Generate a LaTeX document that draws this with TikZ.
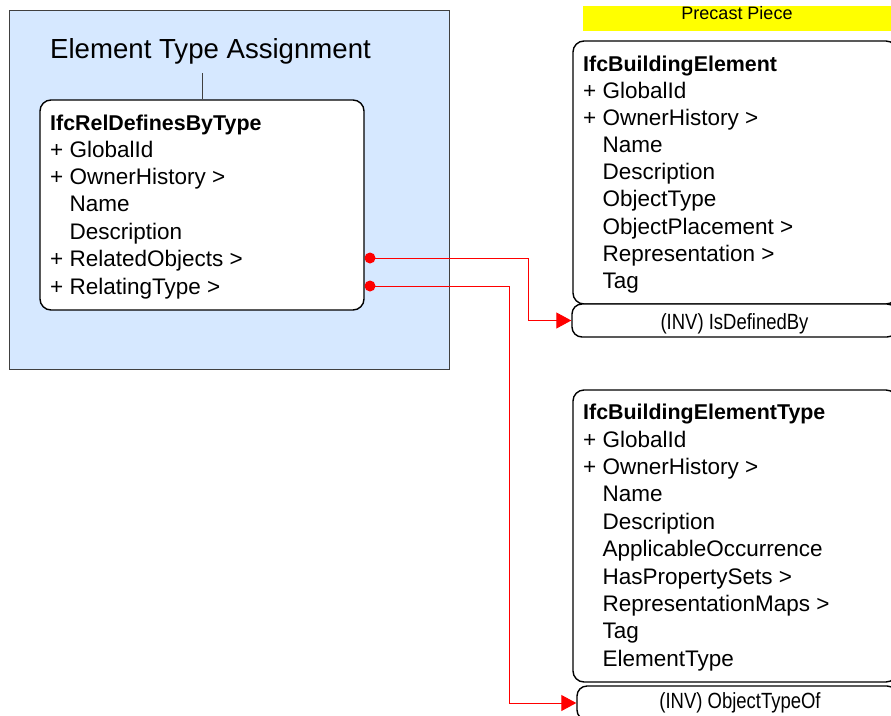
\documentclass[tikz,border=0pt]{standalone}
\usepackage{fontspec}
\usepackage{graphicx}
\setmainfont{Liberation Sans}
\usetikzlibrary{arrows.meta}
\definecolor{groupblue}{RGB}{214,232,255}
\definecolor{groupedge}{RGB}{64,64,64}
\definecolor{tagyellow}{RGB}{255,255,0}
\newcommand\myind{\hphantom{+ }}
\tikzset{
  entbox/.style={draw=black, line width=1.4pt, rounded corners=11pt, fill=white, inner sep=0pt},
  invbox/.style={draw=black, line width=1.4pt, rounded corners=10pt, fill=white, inner sep=0pt},
  item/.style={anchor=base west, inner sep=0pt, font=\fontsize{22.5}{27}\selectfont},
  header/.style={anchor=base west, inner sep=0pt, font=\fontsize{21.4}{25}\selectfont\bfseries},
  invtext/.style={anchor=base, inner sep=0pt, font=\fontsize{22}{26}\selectfont},
  conn/.style={draw=red, line width=1pt, -{Triangle[length=15pt,width=16pt]}},
}
\begin{document}
\begin{tikzpicture}[x=1pt,y=-1pt]
\useasboundingbox (0,0) rectangle (891,715);
\clip (0,0) rectangle (891,715);
\fill[white] (0,0) rectangle (891,715);
% group
\node[draw=groupedge, line width=1pt, fill=groupblue, minimum width=440pt, minimum height=359pt, inner sep=0pt] (group) at (229,189.5) {};
\node[anchor=base west, inner sep=0pt, font=\fontsize{27.6}{32}\selectfont] (title) at (50,58) {Element Type Assignment};
\node[entbox, minimum width=324pt, minimum height=210pt] (rel) at (202,205) {};
\coordinate (t0) at (202,73);
\draw[groupedge, line width=1pt] (t0) -- (rel.north);
\node[header] (relh) at (50,130) {IfcRelDefinesByType};
\foreach \t [count=\i from 0] in {+ GlobalId, + OwnerHistory >, \myind Name, \myind Description, + RelatedObjects >, + RelatingType >}
  \node[item] (r\i) at (50,{157+27.4*\i}) {\t};
% precast label
\node[fill=tagyellow, minimum width=308pt, minimum height=25pt, inner sep=0pt] (tag) at (737,18.5) {};
\node[anchor=base, inner sep=0pt, font=\fontsize{18}{21}\selectfont] (tagt) at (737,19) {Precast Piece};
% building element
\node[entbox, minimum width=324pt, minimum height=263pt] (elem) at (735,172.5) {};
\node[header] (elemh) at (583,71) {IfcBuildingElement};
\foreach \t [count=\i from 0] in {+ GlobalId, + OwnerHistory >, \myind Name, \myind Description, \myind ObjectType, \myind ObjectPlacement >, \myind Representation >, \myind Tag}
  \node[item] (e\i) at (583,{98+27.2*\i}) {\t};
\node[invbox, minimum width=325pt, minimum height=33pt] (inv1) at (734.5,320.5) {};
\node[invtext] (inv1t) at (734.5,329) {\scalebox{0.84}[1]{(INV) IsDefinedBy}};
% building element type
\node[entbox, minimum width=324pt, minimum height=292pt] (etype) at (735,536) {};
\node[header] (etypeh) at (583,419) {IfcBuildingElementType};
\foreach \t [count=\i from 0] in {+ GlobalId, + OwnerHistory >, \myind Name, \myind Description, \myind ApplicableOccurrence, \myind HasPropertySets >, \myind RepresentationMaps >, \myind Tag, \myind ElementType}
  \node[item] (y\i) at (583,{447+27.4*\i}) {\t};
\node[invbox, minimum width=320pt, minimum height=34pt] (inv2) at (737,703) {};
\node[invtext] (inv2t) at (740,708) {\scalebox{0.84}[1]{(INV) ObjectTypeOf}};
% connectors
\coordinate (d1) at (370,258);
\coordinate (d2) at (370,286);
\draw[conn] (d1) -- (528,258) |- (inv1.west);
\draw[conn] (d2) -- (509,286) |- (inv2.west);
\fill[red] (d1) circle[radius=5.5pt];
\fill[red] (d2) circle[radius=5.5pt];
\end{tikzpicture}
\end{document}
